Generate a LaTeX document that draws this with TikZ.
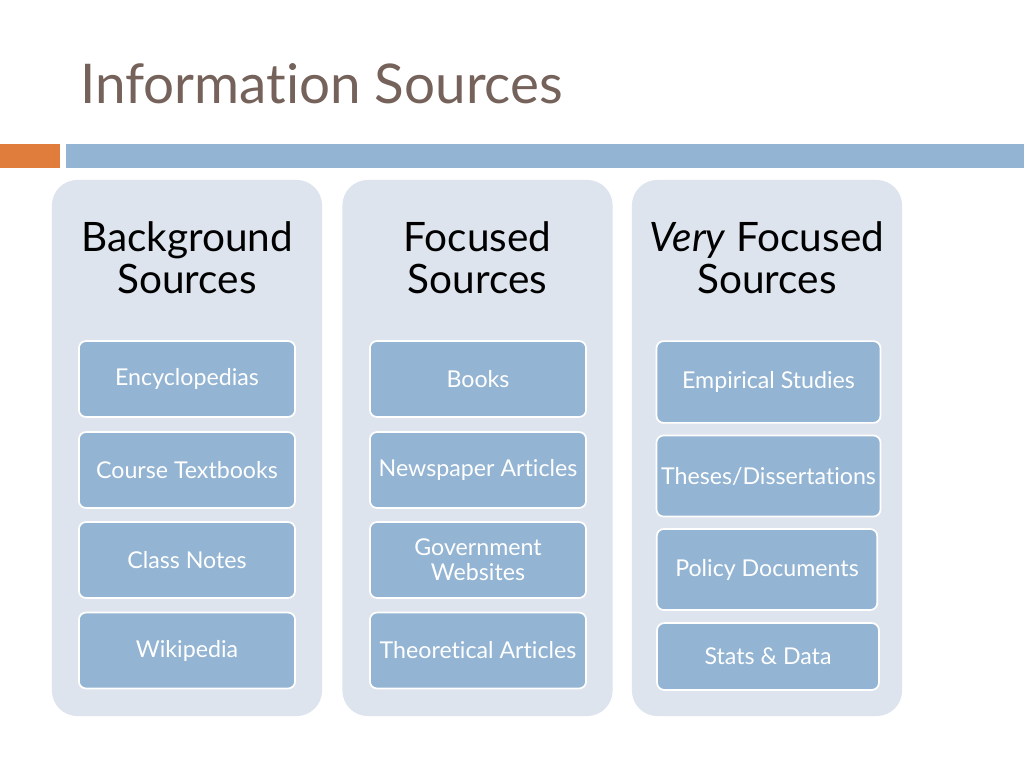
\documentclass[tikz,border=0pt]{standalone}
\usepackage{fontspec}
\setmainfont{Lato}[Ligatures=NoCommon]
\usetikzlibrary{positioning}
\definecolor{titlecolor}{RGB}{117, 98, 90}
\definecolor{accentcolor}{RGB}{224, 125, 60}
\definecolor{barcolor}{RGB}{147, 180, 211}
\definecolor{panelcolor}{RGB}{221, 228, 238}
\definecolor{itemcolor}{RGB}{147, 180, 210}

\begin{document}
\begin{tikzpicture}[
    x=0.703125pt, y=-0.703125pt,
    panel/.style={fill=panelcolor, rounded corners=18pt, minimum width=190pt, minimum height=377pt, inner sep=0pt},
    heading/.style={align=center, inner sep=0pt, font=\fontsize{28.5}{29.5}\selectfont},
    item/.style={draw=white, line width=1.2pt, fill=itemcolor, rounded corners=5pt, text=white, align=center, inner sep=0pt, minimum width=152pt, minimum height=53.4pt, font=\fontsize{16.3}{17.6}\selectfont},
    wideitem/.style={item, minimum width=157.5pt}
]
    \useasboundingbox[fill=white] (0, 0) rectangle (1024, 768);

    % Title and bars
    \node[anchor=base west, inner sep=0pt, text=titlecolor, font=\fontsize{38.5}{40}\selectfont] (title) at (80, 104) {Information Sources};
    \fill[accentcolor] (0, 144) rectangle (60, 168);
    \fill[barcolor] (66, 144) rectangle (1024, 168);

    % Panels
    \node[panel] (background) at (187, 448) {};
    \node[panel] (focused) at (477.5, 448) {};
    \node[panel] (veryfocused) at (767, 448) {};

    % Headings
    \node[heading] (bghead) at (187, 258) {Background\\Sources};
    \node[heading] (fochead) at (477.5, 258) {Focused\\Sources};
    \node[heading] (vfhead) at (767, 258) {\textit{Very} Focused\\Sources};

    % Background sources
    \node[item] (encyclopedias) at (187, 379) {Encyclopedias};
    \node[item] (textbooks) at (187, 470) {Course Textbooks};
    \node[item] (notes) at (187, 560) {Class Notes};
    \node[item] (wikipedia) at (187, 650.5) {Wikipedia};

    % Focused sources
    \node[item] (books) at (478, 379) {Books};
    \node[item] (newspaper) at (478, 470) {Newspaper Articles};
    \node[item] (government) at (478, 560) {Government\\Websites};
    \node[item] (theoretical) at (478, 650.5) {Theoretical Articles};

    % Very focused sources
    \node[wideitem, minimum height=57.5pt] (empirical) at (768.5, 382) {Empirical Studies};
    \node[wideitem, minimum height=57pt] (theses) at (768.5, 476) {Theses/Dissertations};
    \node[wideitem, minimum height=57pt, minimum width=155pt] (policy) at (767, 569.5) {Policy Documents};
    \node[wideitem, minimum height=47pt, minimum width=156pt] (stats) at (768, 656.5) {Stats \& Data};

\end{tikzpicture}
\end{document}
